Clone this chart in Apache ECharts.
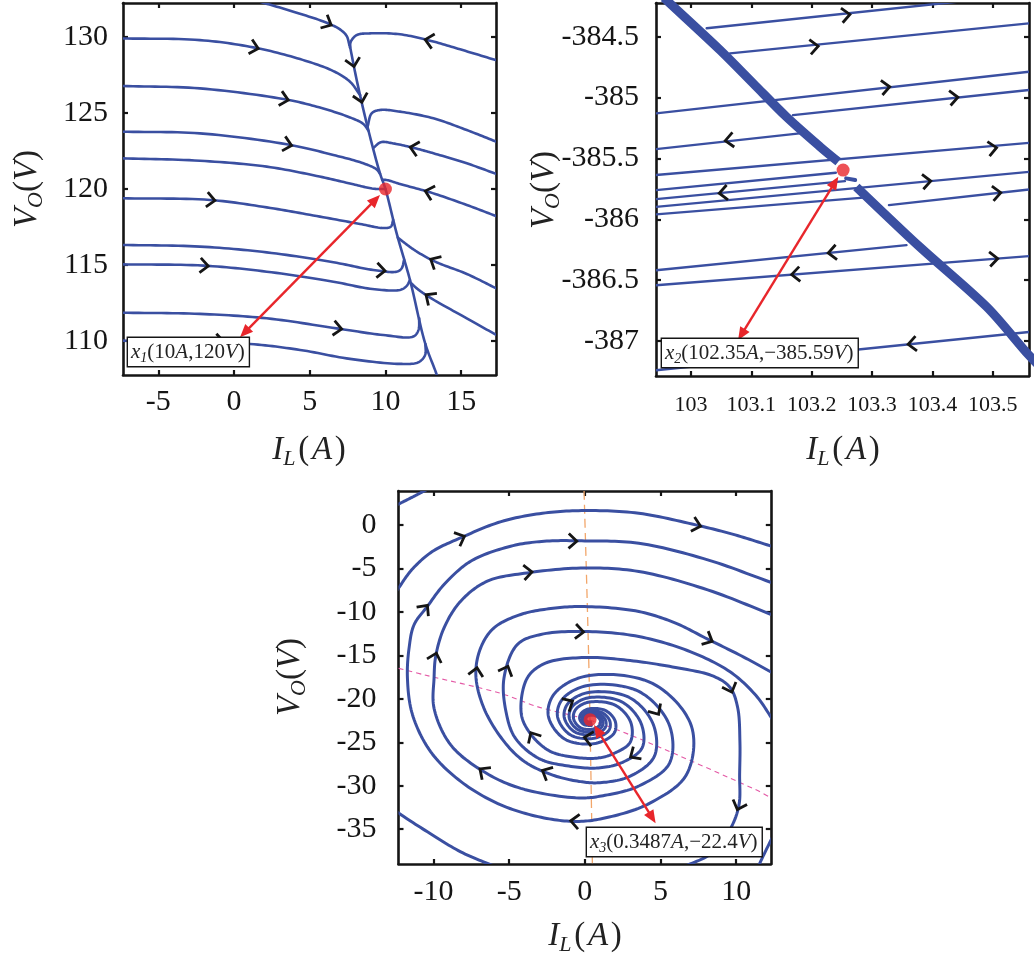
<!DOCTYPE html>
<html>
<head>
<meta charset="utf-8">
<script src="https://cdn.jsdelivr.net/npm/echarts@6.0.0/dist/echarts.min.js"></script>
<style>
  html, body { margin: 0; padding: 0; background: #ffffff; }
  #chart { width: 1035px; height: 960px; }
</style>
</head>
<body>
<div id="chart"></div>
<script>
// ---------- Phase plane 1: equilibrium x1 ----------
const plane1XTicks = [-5, 0, 5, 10, 15];
const plane1YTicks = [110, 115, 120, 125, 130];
const plane1Manifold = [[7.62,129.58],[8.15,126.95],[8.87,123.88],[9.64,121.03],[10,120],[10.74,117.08],[11.62,114.01],[12.62,109.85],[13.39,107.76],[13.5,107.3]];
const plane1Paths = [
  [[1.72,132.32],[3.92,131.67],[6.12,130.94],[7.0,130.5],[7.44,130.07],[7.62,129.47]],
  [[17.4,128.45],[14.93,129.19],[12.95,129.76],[10.96,130.18],[8.98,130.24],[8.1,130.13],[7.71,129.69],[7.66,129.3]],
  [[-7.4,129.91],[-2.25,129.8],[1.28,129.32],[4.36,128.55],[6.56,127.76],[7.66,127.06],[8.33,126.18]],
  [[-7.4,126.78],[-2.25,126.62],[3.26,125.92],[5.46,125.42],[7.66,124.71],[8.54,124.28],[8.87,123.85]],
  [[-7.4,123.77],[-2.25,123.66],[3.48,122.94],[6.56,122.24],[8.54,121.69],[9.42,121.29],[9.64,121.0]],
  [[-7.4,122.02],[-2.25,121.86],[2.16,121.47],[5.46,120.86],[7.88,120.31],[9.2,120.02],[10,120]],
  [[-7.4,119.39],[-1.59,119.28],[2.16,118.79],[5.46,118.22],[8.32,117.7],[9.86,117.43],[10.35,117.52],[10.51,117.96]],
  [[-7.4,116.32],[-2.25,116.21],[2.16,115.83],[6.56,115.18],[9.2,114.67],[10.74,114.56],[11.07,114.78],[11.23,115.33]],
  [[-7.4,115.04],[-2.03,114.96],[2.16,114.56],[6.56,113.9],[8.98,113.44],[10.96,113.36],[11.4,113.62],[11.62,114.01]],
  [[-7.4,111.86],[-2.25,111.78],[2.16,111.49],[6.78,110.83],[9.86,110.39],[11.84,110.29],[12.18,110.72],[12.23,111.49]],
  [[-7.4,110.02],[-4.45,109.98],[1.06,109.8],[4.36,109.41],[7.66,108.82],[10.96,108.49],[12.18,108.6],[12.62,109.08],[12.64,109.8]],
  [[17.4,123.08],[15.37,123.88],[13.17,124.65],[10.96,125.09],[9.64,125.2],[9.09,124.98],[8.82,124.1]],
  [[17.4,120.96],[15.37,121.69],[13.17,122.35],[11.96,122.68],[10.52,123.0],[9.7,123.08],[9.2,122.7]],
  [[17.4,118.18],[15.37,118.95],[12.95,119.78],[10.96,120.33],[10.08,120.59],[9.8,120.6]],
  [[17.4,113.42],[15.37,114.41],[13.28,115.22],[12.07,115.88],[11.29,116.43],[10.82,116.8]],
  [[17.4,110.35],[15.37,111.49],[12.95,112.85],[12.07,113.46],[11.66,113.84]]
];
// [I, V, I ahead, V ahead] : arrow position and a point further along the trajectory
const plane1Arrows = [
  [6.12,130.94,7.0,130.5],[1.28,129.32,4.36,128.55],[7.86,128.38,8.15,126.95],[8.37,126.03,8.87,123.88],
  [3.26,125.92,5.46,125.42],[3.48,122.94,6.56,122.24],[-1.59,119.28,2.16,118.79],[9.64,114.64,10.74,114.56],
  [-2.03,114.96,2.16,114.56],[6.78,110.83,9.86,110.39],[-1.0,109.97,1.06,109.8],
  [12.95,129.76,10.96,130.18],[11.96,122.68,10.52,123.0],[12.95,119.78,10.96,120.33],
  [13.28,115.22,12.07,115.88],[12.95,112.85,12.07,113.46]
];
const plane1Equilibrium = [10, 120];
const plane1Pointer = [9.64, 119.6, 0.40, 110.25];

// ---------- Phase plane 2: equilibrium x2 ----------
const plane2XTicks = [103, 103.1, 103.2, 103.3, 103.4, 103.5];
const plane2YTicks = [-387, -386.5, -386, -385.5, -385, -384.5];
const plane2BandUpper = [[102.955,-384.18],[102.962,-384.212],[103.048,-384.609],[103.103,-384.883],[103.158,-385.158],[103.214,-385.405],[103.244,-385.528]];
const plane2BandLower = [[103.274,-385.734],[103.379,-386.227],[103.49,-386.72],[103.56,-387.118],[103.59,-387.27]];
const plane2BandGap = [[103.257,-385.664],[103.272,-385.678]];
const plane2Paths = [
  [[103.026,-384.431],[103.4426,-384.212]],
  [[103.0646,-384.637],[103.5596,-384.39]],
  [[102.942,-385.13],[103.56,-384.788]],
  [[103.169,-385.144],[103.56,-384.938]],
  [[102.942,-385.424],[103.18,-385.294]],
  [[102.942,-385.637],[103.56,-385.372]],
  [[102.942,-385.761],[103.24,-385.618]],
  [[102.942,-385.835],[103.255,-385.687]],
  [[102.942,-385.898],[103.561,-385.61]],
  [[102.942,-385.96],[103.296,-385.818]],
  [[103.328,-385.884],[103.561,-385.755]],
  [[102.942,-386.419],[103.357,-386.213]],
  [[102.942,-386.542],[103.56,-386.303]],
  [[102.942,-387.241],[103.56,-386.926]]
];
const plane2Arrows = [
  [103.255,-384.322,103.4426,-384.212],[103.2025,-384.582,103.5596,-384.39],[103.321,-384.916,103.56,-384.788],
  [103.434,-385.002,103.56,-384.938],[103.065,-385.349,102.942,-385.424],[103.498,-385.418,103.56,-385.372],
  [103.055,-385.782,102.942,-385.835],[103.389,-385.69,103.561,-385.61],[103.505,-385.786,103.561,-385.755],
  [103.2356,-386.273,102.942,-386.419],[103.175,-386.452,102.942,-386.542],[103.5,-386.326,103.56,-386.303],
  [103.368,-387.024,102.942,-387.241]
];
const plane2Equilibrium = [103.252, -385.596];
const plane2Pointer = [103.244, -385.651, 103.078, -386.994];

// ---------- Phase plane 3: equilibrium x3 ----------
const plane3XTicks = [-10, -5, 0, 5, 10];
const plane3YTicks = [-35, -30, -25, -20, -15, -10, -5, 0];
const plane3Paths = [
  [[-12.6,-8.0],[-12.31,-7.28],[-11.44,-5.17],[-10.08,-3.07],[-8.26,-1.53],[-5.53,0.38],[-2.8,1.34],[0,1.65],[3.57,1.34],[7.33,0],[9.94,-1.15],[12.6,-2.6]],
  [[0.43,-23.08],[-0.07,-22.95],[-0.34,-22.29],[-0.24,-21.67],[0.27,-21.16],[1.38,-21.36],[2.01,-22.58],[1.93,-23.97],[0.66,-25.14],[-1.33,-24.63],[-2.41,-21.98],[-2.03,-19.46],[0.04,-17.4],[4.47,-18.23],[7.04,-23.11],[6.72,-28.72],[4.3,-32.0],[1.61,-33.6],[-0.38,-34.1],[-2.69,-33.7],[-5.55,-32.2],[-8.2,-29.5],[-10.18,-26.1],[-11.39,-21.8],[-11.72,-17.6],[-11.61,-14.14],[-11.28,-11.48],[-10.4,-9.37],[-9.3,-6.86],[-7.54,-4.18],[-4.9,-2.45],[-2.69,-1.88],[0,-1.84],[3.57,-2.11],[8.12,-4.02],[12.6,-6.8]],
  [[0.41,-22.93],[0.02,-22.83],[-0.19,-22.32],[-0.11,-21.83],[0.29,-21.43],[1.15,-21.59],[1.65,-22.54],[1.59,-23.63],[0.6,-24.54],[-0.96,-24.14],[-1.8,-22.07],[-1.51,-20.11],[0.1,-18.5],[3.57,-19.15],[5.57,-22.95],[5.6,-27.4],[3.6,-30.0],[1.34,-31.1],[-0.38,-31.4],[-4.23,-30.3],[-6.66,-28.4],[-8.86,-25.3],[-9.96,-21.1],[-9.96,-17.6],[-9.85,-15.1],[-9.3,-11.84],[-8.2,-8.77],[-6.44,-6.47],[-3.8,-5.52],[0,-4.95],[3.57,-5.36],[8.12,-7.47],[12.6,-10.5]],
  [[0.4,-22.82],[0.09,-22.74],[-0.08,-22.34],[-0.02,-21.95],[0.3,-21.63],[0.99,-21.76],[1.38,-22.51],[1.33,-23.37],[0.55,-24.1],[-0.69,-23.78],[-1.36,-22.14],[-1.13,-20.58],[0.16,-19.3],[2.91,-19.82],[4.5,-22.84],[4.6,-26.6],[3.0,-28.9],[1.0,-29.65],[-0.38,-29.5],[-2.25,-28.7],[-4.0,-27.2],[-5.34,-24.9],[-6.66,-21.1],[-7.2,-17.25],[-6.88,-14.14],[-6.0,-11.84],[-4.23,-10.3],[-2.25,-9.62],[0,-9.39],[3.57,-9.96],[6,-11.3],[8.12,-13.14],[10.5,-15.2],[12.6,-17.2]],
  [[0.39,-22.74],[0.14,-22.68],[0.01,-22.35],[0.05,-22.03],[0.31,-21.78],[0.86,-21.88],[1.18,-22.49],[1.14,-23.19],[0.51,-23.77],[-0.49,-23.51],[-1.03,-22.19],[-0.84,-20.93],[0.19,-19.9],[2.41,-20.32],[3.7,-22.75],[3.8,-25.6],[2.5,-27.3],[0.9,-27.95],[-1.2,-27.7],[-3.03,-26.87],[-4.6,-24.5],[-5.2,-21.55],[-5.34,-17.6],[-4.46,-13.76],[-2.91,-12.6],[0,-12.26],[3.57,-12.84],[7,-14.6],[9.6,-16.9],[11.3,-19.6],[12.6,-22.9]],
  [[0.38,-22.67],[0.18,-22.62],[0.08,-22.36],[0.11,-22.11],[0.32,-21.9],[0.76,-21.99],[1.02,-22.47],[0.98,-23.03],[0.48,-23.5],[-0.32,-23.29],[-0.75,-22.23],[-0.6,-21.22],[0.22,-20.4],[2.0,-20.73],[3.03,-22.68],[3.0,-25.0],[1.9,-26.3],[0.86,-26.81],[-0.8,-26.7],[-2.35,-25.98],[-3.6,-24.0],[-4.2,-21.7],[-3.8,-17.6],[-2.6,-15.9],[0,-15.25],[3,-15.6],[6,-16.4],[8.5,-17.4],[9.6,-18.7],[10.1,-21],[10.25,-25],[10.23,-28.7],[10.19,-32.2],[9.64,-34.9],[8.53,-37.6],[6.55,-39.3],[5.2,-40.2]],
  [[-12.7,2.05],[-11.5,3.1],[-10.4,4.1]],
  [[-12.7,-32.5],[-12.4,-33.0],[-10.4,-35.3],[-8.2,-37.6],[-6.2,-39.1],[-5.5,-39.6]],
  [[12.5,-35.6],[12.29,-36.3],[11.54,-39.0],[11.4,-39.6]]
];
const plane3NullclineI = [[-0.05,3.9],[0.28,-17.0],[0.5,-38.9]];
const plane3NullclineV = [[-12.3,-16.5],[-10.62,-17.24],[-5.6,-19.35],[-3.14,-20.9],[0.61,-22.6],[4.3,-25.1],[11.31,-30.46],[12.3,-31.4]];
const plane3Arrows = [
  [-8.26,-1.53,-6.9,-0.5],[7.33,0,9.94,-1.15],[-10.6,-9.7,-9.5,-7.2],[-0.86,-1.86,1.5,-1.95],
  [-9.9,-15.3,-9.4,-12.3],[-3.82,-5.45,-1.5,-5.1],[-7.18,-17.0,-6.9,-14.3],[-5.2,-16.8,-4.6,-14.2],
  [-0.41,-12.27,3.57,-12.84],[8.12,-13.14,10.5,-15.2],[9.6,-18.7,10.1,-21],[10.19,-32.2,9.64,-34.9],
  [-0.6,-34.1,-2.69,-33.7],[-6.66,-28.4,-8.3,-26.3],[-2.5,-28.5,-4.0,-27.2],[-3.4,-24.4,-4.1,-22.3],
  [4.7,-21.3,5.5,-23.5],[3.3,-26.4,2.5,-27.3],[-1.1,-20.55,0.16,-19.3],[0.3,-24.55,-0.96,-24.14]
];
const plane3Equilibrium = [0.3487, -22.4];
const plane3Pointer = [0.61, -23.0, 4.68, -34.3];

// ---------- drawing ----------
const FONT = '"Liberation Serif", "Times New Roman", serif';
const BLUE = '#3a4fa1';
const RED = '#e8262b';
const INK = '#151515';

function fmt(v) { return String(Number(v.toFixed(3))); }

function xAxisPair(grid, min, max, ticks, fontSize, margin) {
  const line = { onZero: false, lineStyle: { color: INK, width: 2.6 } };
  const tick = { inside: true, length: 5, customValues: ticks, lineStyle: { color: INK, width: 2.2 } };
  return [
    { type: 'value', gridIndex: grid, position: 'bottom', min, max, axisLine: line, axisTick: tick,
      splitLine: { show: false },
      axisLabel: { customValues: ticks, margin, color: INK, fontFamily: FONT, fontSize, formatter: fmt } },
    { type: 'value', gridIndex: grid, position: 'top', min, max, axisLine: line, axisTick: tick,
      splitLine: { show: false }, axisLabel: { show: false } }
  ];
}
function yAxisPair(grid, min, max, ticks, fontSize, margin) {
  const line = { onZero: false, lineStyle: { color: INK, width: 2.6 } };
  const tick = { inside: true, length: 5, customValues: ticks, lineStyle: { color: INK, width: 2.2 } };
  return [
    { type: 'value', gridIndex: grid, position: 'left', min, max, axisLine: line, axisTick: tick,
      splitLine: { show: false },
      axisLabel: { customValues: ticks, margin, color: INK, fontFamily: FONT, fontSize, formatter: fmt } },
    { type: 'value', gridIndex: grid, position: 'right', min, max, axisLine: line, axisTick: tick,
      splitLine: { show: false }, axisLabel: { show: false } }
  ];
}

// centripetal Catmull-Rom through pixel points
function spline(pts, steps) {
  const n = pts.length;
  if (n < 3) return pts;
  const out = [];
  const dist = (a, b) => Math.max(Math.sqrt(Math.hypot(b[0] - a[0], b[1] - a[1])), 1e-3);
  const lerp = (a, b, ta, tb, t) => {
    const w = (t - ta) / (tb - ta);
    return [a[0] + (b[0] - a[0]) * w, a[1] + (b[1] - a[1]) * w];
  };
  for (let i = 0; i < n - 1; i++) {
    const p1 = pts[i], p2 = pts[i + 1];
    const p0 = i > 0 ? pts[i - 1] : [2 * p1[0] - p2[0], 2 * p1[1] - p2[1]];
    const p3 = i < n - 2 ? pts[i + 2] : [2 * p2[0] - p1[0], 2 * p2[1] - p1[1]];
    const t0 = 0, t1 = t0 + dist(p0, p1), t2 = t1 + dist(p1, p2), t3 = t2 + dist(p2, p3);
    for (let k = 0; k < steps; k++) {
      const t = t1 + (t2 - t1) * k / steps;
      const a1 = lerp(p0, p1, t0, t1, t), a2 = lerp(p1, p2, t1, t2, t), a3 = lerp(p2, p3, t2, t3, t);
      const b1 = lerp(a1, a2, t0, t2, t), b2 = lerp(a2, a3, t1, t3, t);
      out.push(lerp(b1, b2, t1, t2, t));
    }
  }
  out.push(pts[n - 1]);
  return out;
}

function curves(list, ax, width, curved) {
  return {
    type: 'custom', xAxisIndex: ax, yAxisIndex: ax, silent: true, z: 2, clip: true,
    data: list.map((p, i) => [p[0][0], p[0][1], i]),
    encode: { x: 0, y: 1 },
    renderItem(params, api) {
      const pts = list[api.value(2)].map(p => api.coord(p));
      const cs = params.coordSys;
      return {
        type: 'polyline',
        shape: { points: curved ? spline(pts, 14) : pts },
        style: { stroke: BLUE, lineWidth: width, fill: null, lineJoin: 'round', lineCap: 'round' },
        clipPath: { type: 'rect', shape: { x: cs.x, y: cs.y, width: cs.width, height: cs.height } }
      };
    }
  };
}
function dashed(data, ax, color, dash, width) {
  return { type: 'line', xAxisIndex: ax, yAxisIndex: ax, data, showSymbol: false, smooth: 0.3,
    lineStyle: { color, width, type: dash }, silent: true, z: 1 };
}
function arrows(data, ax) {
  return {
    type: 'custom', xAxisIndex: ax, yAxisIndex: ax, data, silent: true, z: 5,
    encode: { x: [0, 2], y: [1, 3] },
    renderItem(params, api) {
      const p = api.coord([api.value(0), api.value(1)]);
      const q = api.coord([api.value(2), api.value(3)]);
      let dx = q[0] - p[0], dy = q[1] - p[1];
      const n = Math.hypot(dx, dy) || 1; dx /= n; dy /= n;
      const tip = [p[0] + dx * 5, p[1] + dy * 5];
      const len = 11, c = Math.cos(0.74), s = Math.sin(0.74);
      const b1 = [tip[0] - len * (dx * c - dy * s), tip[1] - len * (dy * c + dx * s)];
      const b2 = [tip[0] - len * (dx * c + dy * s), tip[1] - len * (dy * c - dx * s)];
      return { type: 'polyline', shape: { points: [b1, tip, b2] },
        style: { stroke: INK, lineWidth: 2.8, fill: null, lineJoin: 'miter' } };
    }
  };
}
function pointer(data, ax) {
  return {
    type: 'custom', xAxisIndex: ax, yAxisIndex: ax, data: [data], silent: true, z: 7,
    encode: { x: [0, 2], y: [1, 3] },
    renderItem(params, api) {
      const a = api.coord([api.value(0), api.value(1)]);
      const b = api.coord([api.value(2), api.value(3)]);
      let dx = b[0] - a[0], dy = b[1] - a[1];
      const n = Math.hypot(dx, dy); dx /= n; dy /= n;
      const hl = 13, hw = 5.5;
      const head = (tip, ux, uy) => ({
        type: 'polygon',
        shape: { points: [tip, [tip[0] - ux * hl - uy * hw, tip[1] - uy * hl + ux * hw], [tip[0] - ux * hl + uy * hw, tip[1] - uy * hl - ux * hw]] },
        style: { fill: RED }
      });
      return { type: 'group', children: [
        { type: 'line', shape: { x1: a[0] + dx * 10, y1: a[1] + dy * 10, x2: b[0] - dx * 10, y2: b[1] - dy * 10 },
          style: { stroke: RED, lineWidth: 2.4 } },
        head(a, -dx, -dy), head(b, dx, dy)
      ] };
    }
  };
}
function dot(pt, ax) {
  return { type: 'scatter', xAxisIndex: ax, yAxisIndex: ax, data: [pt], symbolSize: 13,
    itemStyle: { color: RED }, silent: true, z: 8 };
}

const titleRich = {
  i: { fontFamily: FONT, fontStyle: 'italic', fontSize: 33, lineHeight: 40, fill: '#222' },
  n: { fontFamily: FONT, fontSize: 33, lineHeight: 40, fill: '#222' },
  s: { fontFamily: FONT, fontStyle: 'italic', fontSize: 22, lineHeight: 22, verticalAlign: 'bottom', fill: '#222' }
};
const boxRich = {
  i: { fontFamily: FONT, fontStyle: 'italic', fontSize: 21, lineHeight: 26, fill: '#222' },
  n: { fontFamily: FONT, fontSize: 21, lineHeight: 26, fill: '#222' },
  s: { fontFamily: FONT, fontStyle: 'italic', fontSize: 14, lineHeight: 14, verticalAlign: 'bottom', fill: '#222' }
};
const TITLE_I = '{i|I}{s|L}{n|\u200a(\u200a}{i|A}{n|\u200a)}';
const TITLE_V = '{i|V}{s|O}{n|(}{i|V}{n|)}';

function title(text, x, y, vertical) {
  return { type: 'text', x, y, rotation: vertical ? Math.PI / 2 : 0, z: 100, silent: true,
    style: { text, rich: titleRich, x: 0, y: 0, align: 'center', verticalAlign: 'middle',
      textAlign: 'center', textVerticalAlign: 'middle' } };
}
function box(text, x, y) {
  return { type: 'text', x, y, z: 100, silent: true,
    style: { text, rich: boxRich, x: 0, y: 0, align: 'left', verticalAlign: 'middle',
      textAlign: 'left', textVerticalAlign: 'middle',
      backgroundColor: '#ffffff', borderColor: INK, borderWidth: 1.4, padding: [1, 4, 1, 3] } };
}

const chart = echarts.init(document.getElementById('chart'), null, { renderer: 'canvas' });
chart.setOption({
  animation: false,
  backgroundColor: '#ffffff',
  grid: [
    { left: 123, top: 3, width: 373, height: 372 },
    { left: 656, top: 3, width: 373, height: 373 },
    { left: 398.5, top: 491, width: 372.3, height: 373 }
  ],
  xAxis: [
    ...xAxisPair(0, -7.33, 17.3, plane1XTicks, 30, 12),
    ...xAxisPair(1, 102.942, 103.56, plane2XTicks, 22, 18),
    ...xAxisPair(2, -12.31, 12.29, plane3XTicks, 30, 13)
  ],
  yAxis: [
    ...yAxisPair(0, 107.76, 132.24, plane1YTicks, 30, 15),
    ...yAxisPair(1, -387.288, -384.223, plane2YTicks, 30, 17),
    ...yAxisPair(2, -39, 3.9, plane3YTicks, 30, 22)
  ],
  series: [
    // plane 1 (axes 0)
    curves([plane1Manifold], 0, 2.6, true),
    curves(plane1Paths, 0, 2.6, true),
    arrows(plane1Arrows, 0),
    pointer(plane1Pointer, 0),
    dot(plane1Equilibrium, 0),
    // plane 2 (axes 2)
    { type: 'line', xAxisIndex: 2, yAxisIndex: 2, data: plane2BandUpper, showSymbol: false, smooth: 0.3,
      lineStyle: { color: BLUE, width: 9 }, silent: true, z: 3 },
    { type: 'line', xAxisIndex: 2, yAxisIndex: 2, data: plane2BandLower, showSymbol: false, smooth: 0.3,
      lineStyle: { color: BLUE, width: 9 }, silent: true, z: 3 },
    { type: 'line', xAxisIndex: 2, yAxisIndex: 2, data: plane2BandGap, showSymbol: false,
      lineStyle: { color: BLUE, width: 4, cap: 'round' }, silent: true, z: 3 },
    curves(plane2Paths, 2, 2.4, false),
    arrows(plane2Arrows, 2),
    pointer(plane2Pointer, 2),
    dot(plane2Equilibrium, 2),
    // plane 3 (axes 4)
    dashed(plane3NullclineI, 4, '#f2a66a', [9, 5], 1.3),
    dashed(plane3NullclineV, 4, '#e45aa6', [5, 4], 1.1),
    curves(plane3Paths, 4, 3, true),
    arrows(plane3Arrows, 4),
    pointer(plane3Pointer, 4),
    dot(plane3Equilibrium, 4)
  ],
  graphic: [
    title(TITLE_I, 309, 450, false),
    title(TITLE_V, 27, 189, true),
    title(TITLE_I, 843, 450, false),
    title(TITLE_V, 544, 190, true),
    title(TITLE_I, 585, 936, false),
    title(TITLE_V, 290, 677, true),
    box('{i|x}{s|1}{n|(10}{i|A}{n|,120}{i|V}{n|)}', 128, 352),
    box('{i|x}{s|2}{n|(102.35}{i|A}{n|,\u2212385.59}{i|V}{n|)}', 662, 353),
    box('{i|x}{s|3}{n|(0.3487}{i|A}{n|,\u221222.4}{i|V}{n|)}', 587, 842)
  ]
});
</script>
</body>
</html>
